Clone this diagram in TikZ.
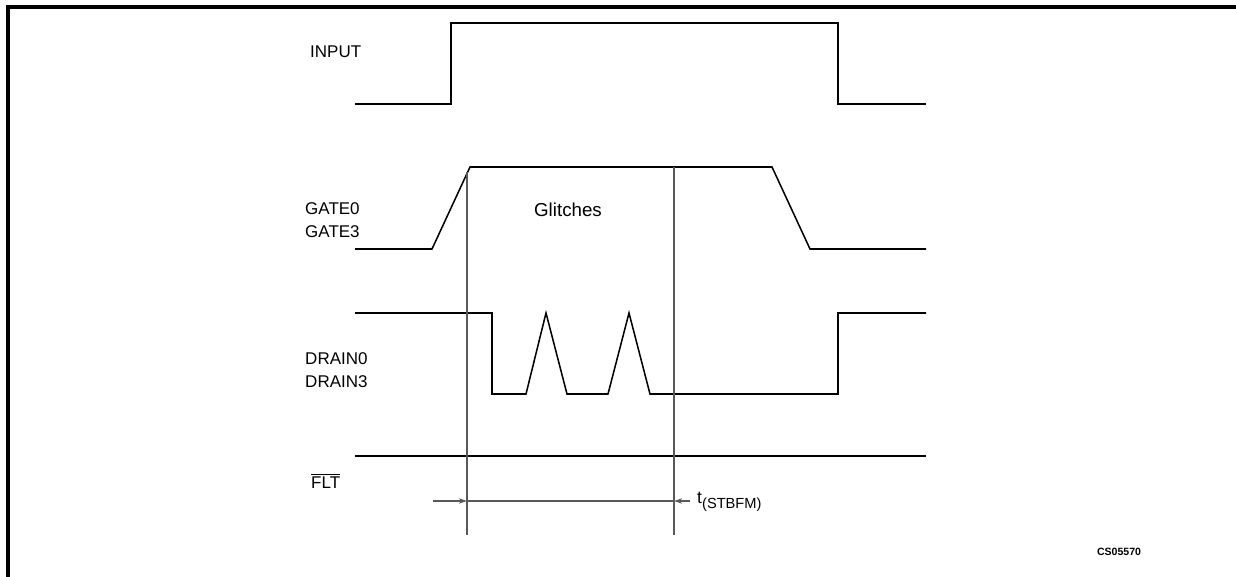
\documentclass[tikz,border=0pt]{standalone}
\usepackage{fontspec}
\setmainfont{Liberation Sans}
\usetikzlibrary{arrows.meta}

\tikzset{
  wave/.style={line width=1.3pt,line join=miter},
  marker/.style={gray!70!black,line width=0.9pt},
  signame/.style={anchor=west,inner sep=0pt,align=left,font=\fontsize{14.5}{19.5}\selectfont},
}

\begin{document}
\begin{tikzpicture}[x=0.3mm,y=-0.3mm,>={Stealth[length=7pt,width=4.5pt]}]
  \useasboundingbox (0,0) rectangle (1236,577);
  \draw[line width=2.6pt] (8,577) -- (8,7) -- (1236,7);
  % signal names
  \node[signame] (input) at (310,52) {INPUT};
  \node[signame] (gate) at (305,220) {GATE0\\GATE3};
  \node[signame] (drain) at (305,370) {DRAIN0\\DRAIN3};
  \node[signame] (flt) at (311,481) {$\overline{\mbox{FLT}}$};
  \node[font=\fontsize{16}{18}\selectfont] (glitch) at (568,210) {Glitches};
  \node[font=\fontsize{9}{11}\selectfont\bfseries] (code) at (1119,552) {CS05570};
  % waveforms
  \draw[wave] (355,104) -- (451,104) -- (451,23) -- (838,23) -- (838,104) -- (926,104);
  \draw[wave] (355,249) -- (432,249) -- (470,167) -- (772,167) -- (810,249) -- (926,249);
  \draw[wave] (355,313) -- (492,313) -- (492,394) -- (526,394) -- (546,313) -- (567,394)
    -- (608,394) -- (629,313) -- (650,394) -- (838,394) -- (838,313) -- (926,313);
  \draw[wave] (355,456) -- (926,456);
  % timing markers
  \coordinate (m1top) at (467,172);
  \coordinate (m1bot) at (467,535);
  \coordinate (m2top) at (674,167);
  \coordinate (m2bot) at (674,535);
  \draw[marker] (m1top) -- (m1bot);
  \draw[marker] (m2top) -- (m2bot);
  \coordinate (dimL) at (433,501);
  \coordinate (dimR) at (690,501);
  \node[anchor=west,inner sep=0pt,font=\fontsize{15}{17}\selectfont] (tstb) at (697,502)
    {t\raisebox{-4pt}{\fontsize{12.5}{14}\selectfont(STBFM)}};
  \draw[marker,->,>={Stealth[length=7pt,width=4.5pt,fill=black]}] (dimL) -- (m1bot |- dimL);
  \draw[marker] (m1bot |- dimL) -- (m2bot |- dimR);
  \draw[marker,->,>={Stealth[length=7pt,width=4.5pt,fill=black]}] (dimR) -- (m2bot |- dimR);
\end{tikzpicture}
\end{document}
